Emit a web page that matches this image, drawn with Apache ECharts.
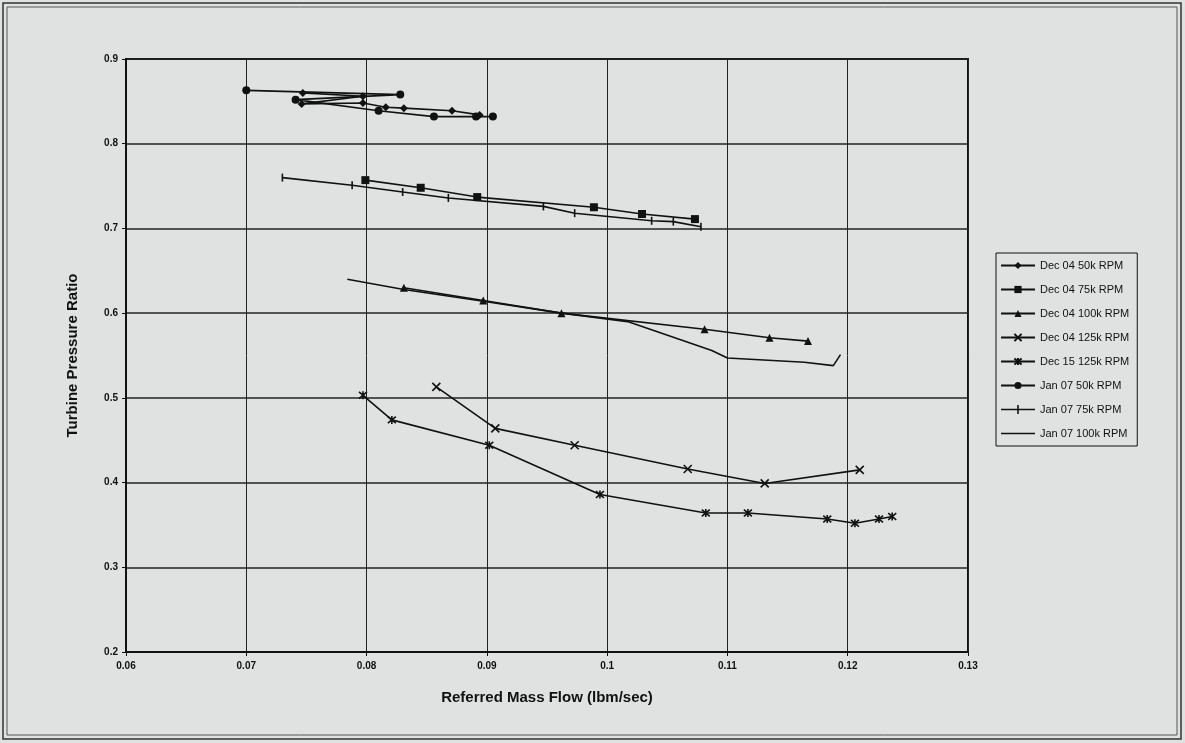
<!DOCTYPE html>
<html>
<head>
<meta charset="utf-8">
<script src="https://cdn.jsdelivr.net/npm/echarts@6/dist/echarts.min.js"></script>
<style>
  html, body { margin: 0; padding: 0; background: #dfe2e1; }
  #chart { width: 1185px; height: 743px; }
</style>
</head>
<body>
<div id="chart"></div>
<script>
// tick labels
const xTicks = ['0.06', '0.07', '0.08', '0.09', '0.1', '0.11', '0.12', '0.13']
const yTicks = ['0.2', '0.3', '0.4', '0.5', '0.6', '0.7', '0.8', '0.9']

// series values, [mass flow, pressure ratio]
const dec04_50k = [[0.0747, 0.860], [0.0797, 0.856], [0.0746, 0.847], [0.0797, 0.848], [0.0816, 0.843], [0.0831, 0.842], [0.0871, 0.839], [0.0894, 0.834]]
const dec04_75k = [[0.0799, 0.757], [0.0845, 0.748], [0.0892, 0.737], [0.0989, 0.725], [0.1029, 0.717], [0.1073, 0.711]]
const dec04_100k = [[0.0831, 0.630], [0.0897, 0.615], [0.0962, 0.600], [0.1081, 0.581], [0.1135, 0.571], [0.1167, 0.567]]
const dec04_125k = [[0.0858, 0.513], [0.0907, 0.464], [0.0973, 0.444], [0.1067, 0.416], [0.1131, 0.399], [0.1210, 0.415]]
const dec15_125k = [[0.0797, 0.503], [0.0821, 0.474], [0.0902, 0.444], [0.0994, 0.386], [0.1082, 0.364], [0.1117, 0.364], [0.1183, 0.357], [0.1206, 0.352], [0.1226, 0.357], [0.1237, 0.360]]
const jan07_50k = [[0.0700, 0.863], [0.0828, 0.858], [0.0741, 0.852], [0.0810, 0.839], [0.0856, 0.832], [0.0891, 0.832], [0.0905, 0.832]]
const jan07_75k = [[0.0730, 0.760], [0.0788, 0.751], [0.0830, 0.743], [0.0868, 0.736], [0.0947, 0.726], [0.0973, 0.718], [0.1037, 0.709], [0.1055, 0.708], [0.1078, 0.702]]
const jan07_100k = [[0.0784, 0.640], [0.0831, 0.628], [0.0897, 0.614], [0.0962, 0.600], [0.1017, 0.590], [0.1087, 0.556], [0.1100, 0.547], [0.1164, 0.542], [0.1188, 0.538], [0.1194, 0.551]]

const names = ['Dec 04 50k RPM', 'Dec 04 75k RPM', 'Dec 04 100k RPM', 'Dec 04 125k RPM', 'Dec 15 125k RPM', 'Jan 07 50k RPM', 'Jan 07 75k RPM', 'Jan 07 100k RPM']

const X_MARK = 'path://M-1,-1L1,1M1,-1L-1,1'
const STAR_MARK = 'path://M-1,-1L1,1M1,-1L-1,1M0,-1.2L0,1.2'
// legend icons for the two series whose markers do not draw well in the legend
const PLUS_ICON = 'path://M0,3.7L34,3.7L34,5.3L0,5.3Z M16.2,0L17.8,0L17.8,9L16.2,9Z'
const LINE_ICON = 'path://M0,3.7L34,3.7L34,5.3L0,5.3Z'

function mkSeries(name, data, symbol, size, stroke) {
  return {
    name,
    type: 'line',
    data,
    symbol,
    symbolSize: size,
    showSymbol: symbol !== 'none',
    lineStyle: { color: '#111', width: 1.6 },
    itemStyle: stroke
      ? { color: 'rgba(0,0,0,0)', borderColor: '#111', borderWidth: 1.6 }
      : { color: '#111', borderColor: '#111', borderWidth: 0 },
    emphasis: { disabled: true },
    z: 3,
  }
}

const legendData = names.map((n, i) => {
  if (i === 6) return { name: n, icon: PLUS_ICON, itemStyle: { color: '#111', borderWidth: 0 } }
  if (i === 7) return { name: n, icon: LINE_ICON, itemStyle: { color: '#111', borderWidth: 0 } }
  return { name: n }
})

const chart = echarts.init(document.getElementById('chart'))
chart.setOption({
  backgroundColor: '#dfe2e1',
  animation: false,
  textStyle: { fontFamily: 'Liberation Sans, Arial, sans-serif', color: '#111' },
  graphic: [
    { type: 'rect', shape: { x: 3, y: 3, width: 1178, height: 736 }, style: { fill: 'none', stroke: '#333', lineWidth: 1.5 } },
    { type: 'rect', shape: { x: 7, y: 7, width: 1170, height: 728 }, style: { fill: 'none', stroke: '#555', lineWidth: 1 } },
  ],
  grid: { left: 126, right: 217, top: 59, bottom: 91, show: true, borderColor: '#111', borderWidth: 2, backgroundColor: 'transparent' },
  legend: {
    orient: 'vertical',
    left: 996,
    top: 253,
    data: legendData,
    itemWidth: 34,
    itemHeight: 9,
    itemGap: 13,
    padding: [7, 8, 7, 4],
    borderColor: '#111',
    borderWidth: 1,
    selectedMode: false,
    textStyle: { fontSize: 11, color: '#111' },
  },
  xAxis: {
    type: 'value',
    min: 0.06,
    max: 0.13,
    interval: 0.01,
    name: 'Referred Mass Flow (lbm/sec)',
    nameLocation: 'middle',
    nameGap: 38,
    nameTextStyle: { fontSize: 15, fontWeight: 'bold', color: '#111' },
    axisLine: { show: true, lineStyle: { color: '#111', width: 2 } },
    axisTick: { show: true, length: 4, lineStyle: { color: '#111' } },
    axisLabel: {
      fontSize: 10, fontWeight: 'bold', color: '#111', margin: 9,
      formatter: (v) => xTicks[Math.round((v - 0.06) / 0.01)],
    },
    splitLine: { show: true, lineStyle: { color: '#222', width: 1 } },
  },
  yAxis: {
    type: 'value',
    min: 0.2,
    max: 0.9,
    interval: 0.1,
    name: 'Turbine Pressure Ratio',
    nameLocation: 'middle',
    nameGap: 46,
    nameTextStyle: { fontSize: 15, fontWeight: 'bold', color: '#111' },
    axisLine: { show: true, lineStyle: { color: '#111', width: 2 } },
    axisTick: { show: true, length: 4, lineStyle: { color: '#111' } },
    axisLabel: {
      fontSize: 10, fontWeight: 'bold', color: '#111', margin: 8,
      formatter: (v) => yTicks[Math.round((v - 0.2) / 0.1)],
    },
    splitLine: { show: true, lineStyle: { color: '#222', width: 1.6 } },
  },
  series: [
    mkSeries(names[0], dec04_50k, 'diamond', 8, false),
    mkSeries(names[1], dec04_75k, 'rect', 8, false),
    mkSeries(names[2], dec04_100k, 'triangle', 8, false),
    mkSeries(names[3], dec04_125k, X_MARK, 8, true),
    mkSeries(names[4], dec15_125k, STAR_MARK, 8, true),
    mkSeries(names[5], jan07_50k, 'circle', 8, false),
    mkSeries(names[6], jan07_75k, 'rect', [1.6, 8], false),
    mkSeries(names[7], jan07_100k, 'none', 8, false),
  ],
})
</script>
</body>
</html>
